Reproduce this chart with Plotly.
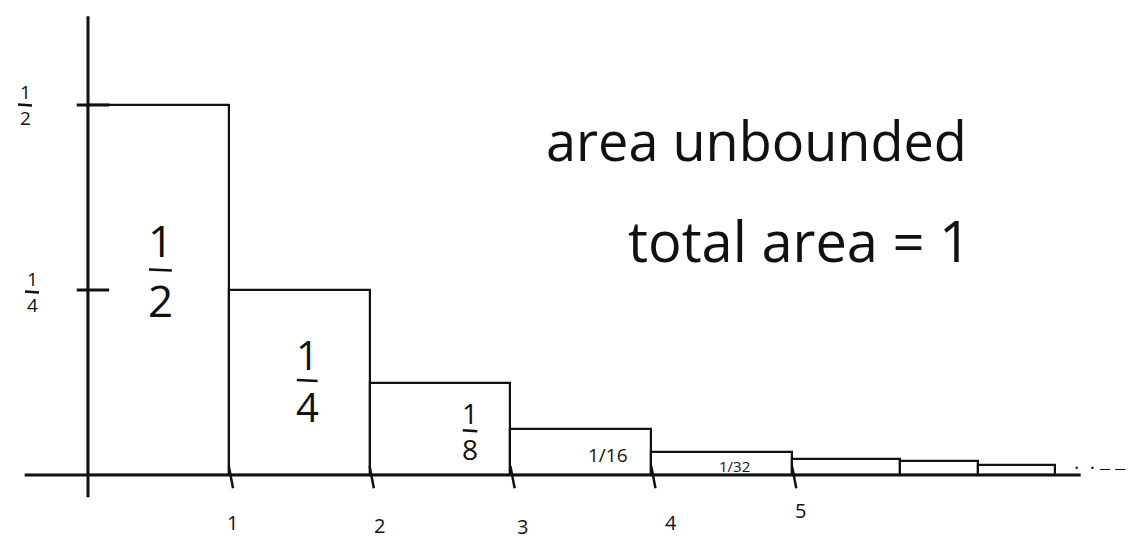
import plotly.graph_objects as go

# Geometric series drawn as rectangles: heights 1/2, 1/4, 1/8, ...
bar_edges = [0, 1, 2, 3, 4, 5, 5.77, 6.32, 6.87]
bar_heights = [0.5, 0.25, 0.125, 0.0625, 0.03125, 0.021, 0.019, 0.014]
# (numerator, denominator) written inside each bar; None where nothing is written
bar_fracs = [("1", "2"), ("1", "4"), ("1", "8"), ("1", "16"), ("1", "32"), None, None, None]

x_ticks = [1, 2, 3, 4, 5]
x_tick_labels = ["1", "2", "3", "4", "5"]
y_ticks = [0.5, 0.25]
y_tick_fracs = [("1", "2"), ("1", "4")]

notes = ["area unbounded", "total area = 1"]

# ---- styling -----------------------------------------------------------
INK = "#111111"
FONT = "Open Sans"
X_RANGE = [-0.625, 7.386]
Y_RANGE = [-0.0865, 0.642]
W, H = 1128, 539
PX_X = (X_RANGE[1] - X_RANGE[0]) / W     # data units per pixel
PX_Y = (Y_RANGE[1] - Y_RANGE[0]) / H

# per-bar label style: stacked?, font size, gap (px), xshift, yshift
bar_label_style = [
    (True, 44, 30, 2, 20),
    (True, 40, 26, 8, 2),
    (True, 28, 18, 30, -2),
    (False, 19, 0, 27, -3),
    (False, 15, 0, 13, -3),
]
x_label_shift = [(4, -47), (10, -50), (12, -51), (20, -47), (8, -35)]
y_label_style = [(-63, 0, 19, 13), (-56, -2, 19, 13)]   # xshift, yshift, size, gap

centers = [(a + b) / 2 for a, b in zip(bar_edges[:-1], bar_edges[1:])]
widths = [b - a for a, b in zip(bar_edges[:-1], bar_edges[1:])]

fig = go.Figure()
fig.add_trace(go.Bar(
    x=centers, y=bar_heights, width=widths,
    marker=dict(color="white", line=dict(color=INK, width=2.2)),
    hoverinfo="skip", showlegend=False,
))

shapes = [
    # axes
    dict(type="line", x0=0, x1=0, y0=-0.03, y1=0.62, line=dict(color=INK, width=3)),
    dict(type="line", x0=-0.45, x1=7.05, y0=0, y1=0, line=dict(color=INK, width=3)),
]
for t in x_ticks:
    shapes.append(dict(type="line", x0=t, x1=t + 0.03, y0=0.012, y1=-0.018,
                       line=dict(color=INK, width=2.5)))
for t in y_ticks:
    shapes.append(dict(type="line", x0=-0.08, x1=0.15, y0=t, y1=t,
                       line=dict(color=INK, width=3)))

annotations = []
rule_x, rule_y = [], []


def stacked_fraction(x, y, num, den, size, gap, dx, dy, half_w):
    """Numerator over denominator with a short rule between, anchored at data (x, y)."""
    font = dict(family=FONT, size=size, color=INK)
    annotations.append(dict(x=x, y=y, xshift=dx, yshift=dy + gap, text=num,
                            showarrow=False, font=font))
    annotations.append(dict(x=x, y=y, xshift=dx, yshift=dy - gap, text=den,
                            showarrow=False, font=font))
    cx, cy = x + dx * PX_X, y + dy * PX_Y
    rule_x.extend([cx - half_w * PX_X, cx + half_w * PX_X, None])
    rule_y.extend([cy + 0.5 * PX_Y, cy - 0.5 * PX_Y, None])


for c, h, frac, st in zip(centers, bar_heights, bar_fracs, bar_label_style + [None] * 3):
    if frac is None:
        continue
    stacked, size, gap, dx, dy = st
    if stacked:
        stacked_fraction(c, h / 2, frac[0], frac[1], size, gap, dx, dy, size * 0.26)
    else:
        annotations.append(dict(x=c, y=h / 2, xshift=dx, yshift=dy,
                                text=f"{frac[0]}/{frac[1]}", showarrow=False,
                                font=dict(family=FONT, size=size, color=INK)))

for t, lab, (dx, dy) in zip(x_ticks, x_tick_labels, x_label_shift):
    annotations.append(dict(x=t, y=0, xshift=dx, yshift=dy, text=lab, showarrow=False,
                            font=dict(family=FONT, size=20, color=INK)))
for t, frac, (dx, dy, size, gap) in zip(y_ticks, y_tick_fracs, y_label_style):
    stacked_fraction(0, t, frac[0], frac[1], size, gap, dx, dy, 7)

# short rules of the hand-written fractions
fig.add_trace(go.Scatter(x=rule_x, y=rule_y, mode="lines",
                         line=dict(color=INK, width=2.5),
                         hoverinfo="skip", showlegend=False))

annotations.append(dict(x=X_RANGE[1], y=0, xanchor="right", yshift=8, text="·  · ‒ ‒",
                        showarrow=False, font=dict(family=FONT, size=20, color=INK)))
annotations.append(dict(x=4.75, y=0.453, text=notes[0], showarrow=False,
                        font=dict(family=FONT, size=54, color=INK)))
annotations.append(dict(x=5.05, y=0.318, text=notes[1], showarrow=False,
                        font=dict(family=FONT, size=56, color=INK)))

fig.update_layout(
    width=W, height=H,
    margin=dict(l=0, r=0, t=0, b=0),
    paper_bgcolor="white", plot_bgcolor="white",
    xaxis=dict(range=X_RANGE, visible=False),
    yaxis=dict(range=Y_RANGE, visible=False),
    bargap=0,
    shapes=shapes,
    annotations=annotations,
)

fig.write_html("out.html")
